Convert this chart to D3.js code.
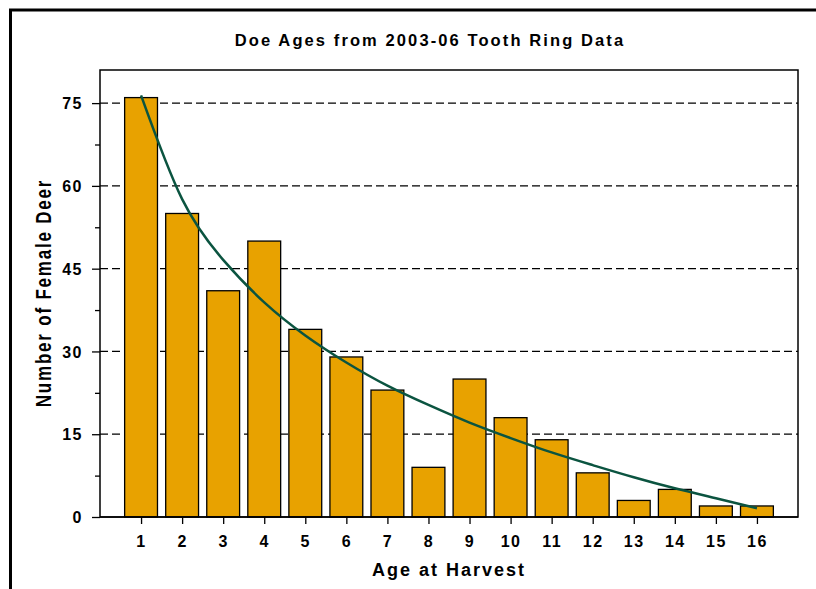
<!DOCTYPE html>
<html><head><meta charset="utf-8">
<script src="https://cdn.jsdelivr.net/npm/d3@7"></script>
<style>
html,body{margin:0;padding:0;background:#fff;}
text{font-family:"Liberation Sans",Arial,sans-serif;font-weight:bold;fill:#000;}
</style></head>
<body>
<svg id="chart" width="816" height="589"></svg>
<script>
const titleText = "Doe Ages from 2003-06 Tooth Ring Data";
const xTitle = "Age at Harvest";
const yTitle = "Number of Female Deer";
const ages = [1,2,3,4,5,6,7,8,9,10,11,12,13,14,15,16];
const does = [76,55,41,50,34,29,23,9,25,18,14,8,3,5,2,2];
// trendline values at each age
const trend = [76.4,57.6,46.6,38.9,32.9,28.0,23.8,20.3,17.1,14.3,11.7,9.4,7.2,5.2,3.4,1.6];
const yTicks = [0,15,30,45,60,75];
const yMinor = [7.5,22.5,37.5,52.5,67.5];

const svg = d3.select("#chart");
const L = 100, R = 798, T = 70, B = 517;
const x = d3.scaleLinear().domain([0,17]).range([L,R]);
const y = d3.scaleLinear().domain([0,81]).range([B,T]);

// outer frame
svg.append("rect").attr("x",10.5).attr("y",10).attr("width",900).attr("height",700)
  .attr("fill","none").attr("stroke","#000").attr("stroke-width",3);

// title
svg.append("text").attr("x",430).attr("y",46).attr("text-anchor","middle")
  .style("font-size","16.5px").style("letter-spacing","2.1px").text(titleText);

// gridlines
svg.append("g").selectAll("line").data(yTicks.filter(d=>d>0)).join("line")
  .attr("x1",L).attr("x2",R).attr("y1",d=>y(d)).attr("y2",d=>y(d))
  .attr("stroke","#000").attr("stroke-width",1.3).attr("stroke-dasharray","8,4");

// y axis
const ya = svg.append("g").attr("transform",`translate(${L},0)`)
  .call(d3.axisLeft(y).tickValues(yTicks).tickSize(8).tickPadding(9).tickFormat(d3.format("d")));
ya.select(".domain").remove();
ya.selectAll(".tick line").attr("stroke","#000").attr("stroke-width",1.3);
ya.selectAll(".tick text").style("font-size","16px").style("letter-spacing","1.5px")
  .style("font-family","'Liberation Sans',Arial,sans-serif").style("font-weight","bold").attr("dy","0.36em");
const ym = svg.append("g").attr("transform",`translate(${L},0)`)
  .call(d3.axisLeft(y).tickValues(yMinor).tickSize(5).tickFormat(""));
ym.select(".domain").remove();
ym.selectAll(".tick line").attr("stroke","#000").attr("stroke-width",1.3);

// bars
svg.append("g").selectAll("rect").data(ages).join("rect")
  .attr("x",(d)=>x(d-0.4)).attr("width",(d)=>x(d+0.4)-x(d-0.4))
  .attr("y",(d,i)=>y(does[i])).attr("height",(d,i)=>y(0)-y(does[i]))
  .attr("fill","#E8A200").attr("stroke","#000").attr("stroke-width",1.3);

// x axis
const xa = svg.append("g").attr("transform",`translate(0,${B})`)
  .call(d3.axisBottom(x).tickValues(ages).tickSize(7).tickPadding(12).tickFormat(d3.format("d")));
xa.select(".domain").remove();
xa.selectAll(".tick line").attr("stroke","#000").attr("stroke-width",1.3);
xa.selectAll(".tick text").style("font-size","16px").style("letter-spacing","1.5px")
  .style("font-family","'Liberation Sans',Arial,sans-serif").style("font-weight","bold");

// plot frame
svg.append("line").attr("x1",L).attr("x2",R).attr("y1",B).attr("y2",B).attr("stroke","#000").attr("stroke-width",1.5);
svg.append("rect").attr("x",L).attr("y",T).attr("width",R-L).attr("height",B-T)
  .attr("fill","none").attr("stroke","#000").attr("stroke-width",1.5);

// trendline
const line = d3.line().x((d,i)=>x(ages[i])).y(d=>y(d)).curve(d3.curveNatural);
svg.append("path").datum(trend).attr("d",line).attr("fill","none")
  .attr("stroke","#0B5440").attr("stroke-width",2.5);

// axis titles
svg.append("text").attr("x",449).attr("y",576).attr("text-anchor","middle")
  .style("font-size","18px").style("letter-spacing","2px").text(xTitle);
svg.append("text").attr("transform","translate(51,293) rotate(-90) scale(1,1.25)").attr("text-anchor","middle")
  .style("font-size","17px").style("letter-spacing","1.8px").text(yTitle);
</script>
</body></html>
